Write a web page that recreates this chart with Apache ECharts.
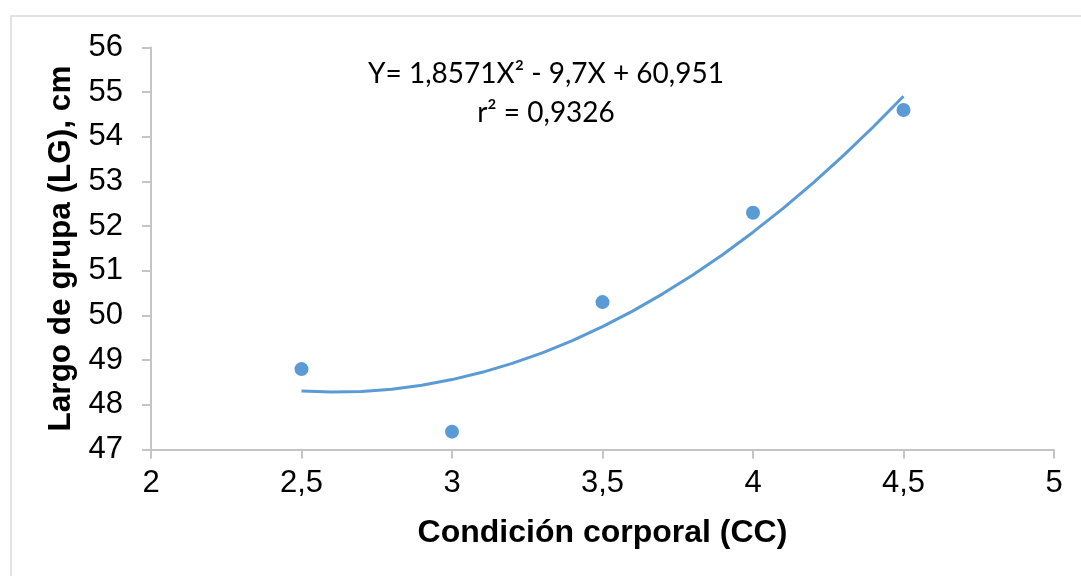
<!DOCTYPE html>
<html>
<head>
<meta charset="utf-8">
<script src="https://cdn.jsdelivr.net/npm/echarts@6/dist/echarts.min.js"></script>
<style>
  html, body { margin: 0; padding: 0; background: #ffffff; }
  #chart { width: 1081px; height: 576px; }
</style>
</head>
<body>
<div id="chart"></div>
<script>
// Observed data points (Condición corporal vs Largo de grupa)
const ccValues = [2.5, 3, 3.5, 4, 4.5];
const lgValues = [48.8, 47.4, 50.3, 52.3, 54.6];

// Polynomial trend line samples (from the displayed equation Y = 1,8571X² - 9,7X + 60,951)
const trendX = [2.5, 2.6, 2.7, 2.8, 2.9, 3.0, 3.1, 3.2, 3.3, 3.4, 3.5,
                3.6, 3.7, 3.8, 3.9, 4.0, 4.1, 4.2, 4.3, 4.4, 4.5];
const trendY = [48.308, 48.285, 48.299, 48.351, 48.439, 48.565, 48.728, 48.928, 49.165, 49.439, 49.750,
                50.099, 50.485, 50.908, 51.367, 51.865, 52.399, 52.970, 53.579, 54.225, 54.907];

const xTicks = { min: 2, max: 5, interval: 0.5 };
const yTicks = { min: 47, max: 56, interval: 1 };

const equationLine1 = 'Y= 1,8571X² - 9,7X + 60,951';
const equationLine2 = 'r² = 0,9326';
const xTitle = 'Condición corporal (CC)';
const yTitle = 'Largo de grupa (LG), cm';

const chart = echarts.init(document.getElementById('chart'), null, { renderer: 'canvas' });
const axisColor = '#c4c4c4';
const blue = '#5b9bd5';
const fmt = v => String(v).replace('.', ',');

chart.setOption({
  backgroundColor: '#ffffff',
  animation: false,
  grid: { left: 151, right: 27, top: 47.5, bottom: 126.5, containLabel: false },
  xAxis: {
    type: 'value',
    min: xTicks.min, max: xTicks.max, interval: xTicks.interval,
    name: xTitle,
    nameLocation: 'middle',
    nameGap: 68,
    nameTextStyle: { fontFamily: 'Liberation Sans, Arial', fontSize: 32, fontWeight: 'bold', color: '#000' },
    axisLine: { show: true, onZero: false, lineStyle: { color: axisColor, width: 2 } },
    axisTick: { show: true, length: 9, lineStyle: { color: axisColor, width: 2 } },
    axisLabel: { margin: 18, fontFamily: 'Liberation Sans, Arial', fontSize: 31, color: '#000', formatter: fmt },
    splitLine: { show: false }
  },
  yAxis: {
    type: 'value',
    min: yTicks.min, max: yTicks.max, interval: yTicks.interval,
    name: yTitle,
    nameLocation: 'middle',
    nameGap: 73,
    nameRotate: 90,
    nameTextStyle: { fontFamily: 'Liberation Sans, Arial', fontSize: 31.5, fontWeight: 'bold', color: '#000' },
    axisLine: { show: true, onZero: false, lineStyle: { color: axisColor, width: 2 } },
    axisTick: { show: true, length: 9, lineStyle: { color: axisColor, width: 2 } },
    axisLabel: { margin: 28, fontFamily: 'Liberation Sans, Arial', fontSize: 31, color: '#000', formatter: fmt },
    splitLine: { show: false }
  },
  graphic: [
    {
      type: 'rect', silent: true, z: -10,
      shape: { x: 11, y: 16, width: 1200, height: 700 },
      style: { fill: 'none', stroke: '#d9d9d9', lineWidth: 1.5 }
    },
    {
      type: 'text', silent: true,
      x: 546, y: 74,
      style: { text: equationLine1, fontFamily: 'Lato', fontSize: 28, fill: '#000', align: 'center', verticalAlign: 'middle' }
    },
    {
      type: 'text', silent: true,
      x: 546, y: 113,
      style: { text: equationLine2, fontFamily: 'Lato', fontSize: 28, fill: '#000', align: 'center', verticalAlign: 'middle' }
    }
  ],
  series: [
    {
      type: 'line',
      data: trendX.map((x, i) => [x, trendY[i]]),
      smooth: false,
      showSymbol: false,
      lineStyle: { color: blue, width: 3 },
      z: 2
    },
    {
      type: 'scatter',
      data: ccValues.map((x, i) => [x, lgValues[i]]),
      symbol: 'circle',
      symbolSize: 14,
      itemStyle: { color: blue, opacity: 1 },
      z: 3
    }
  ]
});
</script>
</body>
</html>
